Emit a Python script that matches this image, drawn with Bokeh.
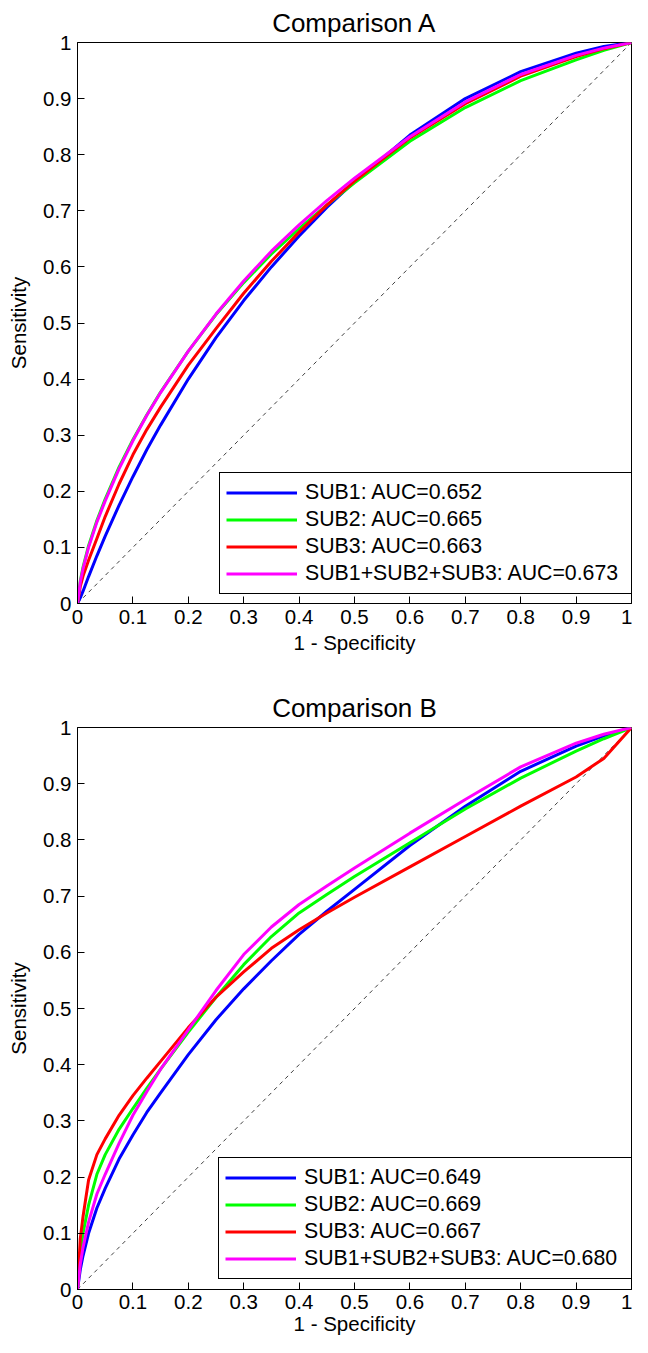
from bokeh.plotting import figure
from bokeh.layouts import column
from bokeh.models import Range1d, FixedTicker, Legend, LegendItem
from bokeh.embed import file_html
from bokeh.resources import INLINE

TICKS = [0, 0.1, 0.2, 0.3, 0.4, 0.5, 0.6, 0.7, 0.8, 0.9, 1]
TICK_LABELS = ["0", "0.1", "0.2", "0.3", "0.4", "0.5", "0.6", "0.7", "0.8", "0.9", "1"]

SERIES = ["SUB1", "SUB2", "SUB3", "SUB1+SUB2+SUB3"]
COLORS = ["#0000FF", "#00FF00", "#FF0000", "#FF00FF"]

X = [0, 0.005, 0.01, 0.02, 0.035, 0.05, 0.075, 0.1, 0.125, 0.15, 0.2, 0.25,
     0.3, 0.35, 0.4, 0.45, 0.5, 0.6, 0.7, 0.8, 0.9, 0.95, 1.0]

# Comparison A
TITLE_A = "Comparison A"
AUC_A = ["0.652", "0.665", "0.663", "0.673"]
A_SUB1 = [0, 0.010, 0.022, 0.048, 0.085, 0.120, 0.175, 0.226, 0.274, 0.318, 0.400, 0.474,
          0.540, 0.600, 0.655, 0.706, 0.752, 0.835, 0.900, 0.948, 0.981, 0.993, 1]
A_SUB2 = [0, 0.040, 0.065, 0.103, 0.148, 0.186, 0.243, 0.292, 0.336, 0.377, 0.450, 0.515,
          0.572, 0.623, 0.668, 0.710, 0.750, 0.824, 0.884, 0.932, 0.969, 0.986, 1]
A_SUB3 = [0, 0.030, 0.049, 0.077, 0.116, 0.155, 0.213, 0.265, 0.310, 0.350, 0.425, 0.490,
          0.553, 0.610, 0.662, 0.710, 0.753, 0.830, 0.891, 0.940, 0.975, 0.989, 1]
A_ALL = [0, 0.038, 0.062, 0.100, 0.145, 0.183, 0.240, 0.290, 0.335, 0.376, 0.450, 0.516,
         0.575, 0.628, 0.675, 0.718, 0.758, 0.832, 0.894, 0.943, 0.977, 0.990, 1]

# Comparison B
TITLE_B = "Comparison B"
AUC_B = ["0.649", "0.669", "0.667", "0.680"]
B_SUB1 = [0, 0.035, 0.060, 0.100, 0.145, 0.180, 0.232, 0.275, 0.315, 0.350, 0.418, 0.480,
          0.535, 0.585, 0.632, 0.673, 0.712, 0.790, 0.860, 0.922, 0.967, 0.985, 1]
B_SUB2 = [0, 0.065, 0.100, 0.150, 0.205, 0.240, 0.285, 0.322, 0.358, 0.392, 0.458, 0.520,
          0.578, 0.628, 0.670, 0.703, 0.735, 0.795, 0.855, 0.910, 0.958, 0.980, 1]
B_SUB3 = [0, 0.090, 0.130, 0.195, 0.240, 0.268, 0.310, 0.345, 0.376, 0.406, 0.466, 0.520,
          0.565, 0.607, 0.640, 0.670, 0.698, 0.752, 0.806, 0.860, 0.912, 0.945, 1]
B_ALL = [0, 0.045, 0.075, 0.120, 0.170, 0.205, 0.260, 0.310, 0.352, 0.392, 0.462, 0.532,
         0.596, 0.645, 0.685, 0.718, 0.750, 0.812, 0.872, 0.930, 0.972, 0.988, 1]

DIAG = [0, 1]

FONT = "Liberation Sans"


def make_plot(title, xs, curves, aucs, width, height, borders, legend_loc,
              x_label_standoff, x_axis_label_standoff):
    left, right, top, bottom = borders
    p = figure(width=width, height=height, output_backend="svg", toolbar_location=None,
               x_range=Range1d(0, 1), y_range=Range1d(0, 1),
               min_border_left=left, min_border_right=right,
               min_border_top=top, min_border_bottom=bottom,
               background_fill_color="white", border_fill_color="white")
    p.title.text = title
    p.title.align = "center"
    p.title.text_font = FONT
    p.title.text_font_size = "26px"
    p.title.text_font_style = "normal"
    p.title.text_color = "black"
    p.title.standoff = 10
    p.outline_line_color = "black"
    p.outline_line_width = 1
    p.outline_line_alpha = 1
    p.xgrid.visible = False
    p.ygrid.visible = False
    for ax in (p.xaxis[0], p.yaxis[0]):
        ax.ticker = FixedTicker(ticks=TICKS)
        ax.major_label_overrides = {t: l for t, l in zip(TICKS, TICK_LABELS)}
        ax.major_tick_in = 7
        ax.major_tick_out = 0
        ax.minor_tick_in = 0
        ax.minor_tick_out = 0
        ax.axis_line_color = "black"
        ax.major_tick_line_color = "black"
        ax.major_label_text_font = FONT
        ax.major_label_text_font_size = "20.5px"
        ax.major_label_text_color = "black"
        ax.axis_label_text_font = FONT
        ax.axis_label_text_font_size = "20.5px"
        ax.axis_label_text_font_style = "normal"
        ax.axis_label_text_color = "black"
    p.xaxis.axis_label = "1 - Specificity"
    p.yaxis.axis_label = "Sensitivity"
    p.xaxis.major_label_standoff = x_label_standoff
    p.yaxis.major_label_standoff = 6
    p.xaxis.axis_label_standoff = x_axis_label_standoff
    p.yaxis.axis_label_standoff = 10

    p.line(DIAG, DIAG, line_color="#404040", line_width=1, line_dash="4 4")
    items = []
    for name, ys, color, auc in zip(SERIES, curves, COLORS, aucs):
        r = p.line(xs, ys, line_color=color, line_width=3)
        items.append(LegendItem(label=f"{name}: AUC={auc}", renderers=[r]))
    legend = Legend(items=items, location=legend_loc)
    legend.label_text_font = FONT
    legend.label_text_font_size = "21.3px"
    legend.label_text_color = "black"
    legend.glyph_width = 71
    legend.glyph_height = 27
    legend.label_height = 27
    legend.label_width = 321
    legend.label_standoff = 8
    legend.spacing = 0
    legend.padding = 6
    legend.margin = 0
    legend.border_line_color = "black"
    legend.border_line_width = 1
    legend.border_line_alpha = 1
    legend.background_fill_alpha = 1
    p.add_layout(legend, "center")
    return p


pa = make_plot(TITLE_A, X, [A_SUB1, A_SUB2, A_SUB3, A_ALL], AUC_A,
               632, 668, (73, 1, 41, 65), (142, 9), 6, 4)
pb = make_plot(TITLE_B, X, [B_SUB1, B_SUB2, B_SUB3, B_ALL], AUC_B,
               632, 669, (77, 1, 59, 48), (141, 10), 5, 0)

layout = column(pa, pb, spacing=0)
open("out.html", "w").write(file_html(layout, INLINE))
